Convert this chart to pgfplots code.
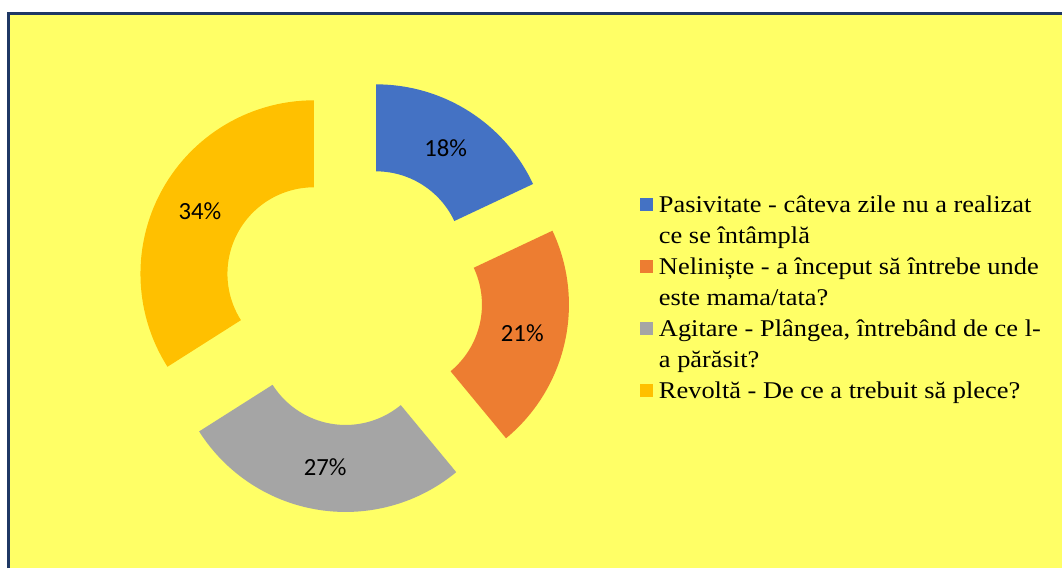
\documentclass[border=0pt]{standalone}
\usepackage{pgfplots}
\pgfplotsset{compat=1.18}
\usepackage{fontspec}
\setmainfont{Liberation Serif}
\newfontfamily\legfont{Liberation Serif}[FakeStretch=1.1]
\newfontfamily\labfont{Carlito}
\definecolor{bg}{HTML}{FFFF66}
\definecolor{navy}{HTML}{1F3864}
\definecolor{cA}{HTML}{4472C4}
\definecolor{cB}{HTML}{ED7D31}
\definecolor{cC}{HTML}{A5A5A5}
\definecolor{cD}{HTML}{FFC000}

% data (percent)
\def\vA{18}\def\vB{21}\def\vC{27}\def\vD{34}

% geometry in pixel units
\def\cx{352.5}\def\cy{273}\def\Ro{173.5}\def\Ri{86.5}\def\off{44}\def\rl{130}

\pgfmathsetmacro\tot{\vA+\vB+\vC+\vD}
\pgfmathsetmacro\aA{90}
\pgfmathsetmacro\bA{\aA-360*\vA/\tot}
\pgfmathsetmacro\aB{\bA}
\pgfmathsetmacro\bB{\aB-360*\vB/\tot}
\pgfmathsetmacro\aC{\bB}
\pgfmathsetmacro\bC{\aC-360*\vC/\tot}
\pgfmathsetmacro\aD{\bC}
\pgfmathsetmacro\bD{\aD-360*\vD/\tot}
\newcommand\mkseg[1]{%
  \pgfmathsetmacro\m{(\csname a#1\endcsname+\csname b#1\endcsname)/2}%
  \expandafter\pgfmathsetmacro\csname ox#1\endcsname{\cx+\off*cos(\m)}%
  \expandafter\pgfmathsetmacro\csname oy#1\endcsname{\cy+\off*sin(\m)}%
  \expandafter\pgfmathsetmacro\csname lx#1\endcsname{\cx+(\off+\rl)*cos(\m)}%
  \expandafter\pgfmathsetmacro\csname ly#1\endcsname{\cy+(\off+\rl)*sin(\m)}%
}
\mkseg{A}\mkseg{B}\mkseg{C}\mkseg{D}

\tikzset{
  declare function={
    rr(\t)=\Ro+(\Ri-\Ro)*min(max(\t-1,0),1);
    aa(\t,\p,\q)=\p+(\q-\p)*min(\t,1)+(\p-\q)*max(\t-2,0);
  },
}
\pgfplotsset{seg/.style={draw=none, domain=0:3, samples=181, fill=#1}}

\begin{document}
\begin{tikzpicture}
\begin{axis}[
  width=796.5pt, height=426pt, scale only axis,
  xmin=0, xmax=1062, ymin=0, ymax=568,
  hide axis,
  legend style={at={(0.6026,0.665)}, anchor=north west, draw=none, fill=none,
    inner sep=0pt, outer sep=0pt, row sep=0pt, column sep=0pt,
    font=\legfont\fontsize{18}{23.25}\selectfont,
    cells={anchor=base west},
    nodes={inner sep=0pt, outer sep=0pt, text height=16.3pt, text depth=6.95pt}},
  legend image code/.code={\fill[#1] (0pt,0.75pt) rectangle (9.75pt,10.5pt); \path (14.25pt,0pt);},
]
\fill[white] (0,0) rectangle (1062,568);
\fill[bg] (8.5,0) rectangle (1062,554);
\draw[navy, line width=2.25pt] (8.5,0) -- (8.5,554) -- (1062,554);

\addplot[seg=cA] ({\oxA+rr(x)*cos(aa(x,\aA,\bA))},{\oyA+rr(x)*sin(aa(x,\aA,\bA))});
\addlegendentry{Pasivitate - câteva zile nu a realizat}
\addlegendimage{empty legend}
\addlegendentry{ce se întâmplă}
\addplot[seg=cB] ({\oxB+rr(x)*cos(aa(x,\aB,\bB))},{\oyB+rr(x)*sin(aa(x,\aB,\bB))});
\addlegendentry{Neliniște - a început să întrebe unde}
\addlegendimage{empty legend}
\addlegendentry{este mama/tata?}
\addplot[seg=cC] ({\oxC+rr(x)*cos(aa(x,\aC,\bC))},{\oyC+rr(x)*sin(aa(x,\aC,\bC))});
\addlegendentry{Agitare - Plângea, întrebând de ce l-}
\addlegendimage{empty legend}
\addlegendentry{a părăsit?}
\addplot[seg=cD] ({\oxD+rr(x)*cos(aa(x,\aD,\bD))},{\oyD+rr(x)*sin(aa(x,\aD,\bD))});
\addlegendentry{Revoltă - De ce a trebuit să plece?}

\node[font=\labfont\fontsize{18.5}{20}\selectfont] at (\lxA,\lyA) {\vA\%};
\node[font=\labfont\fontsize{18.5}{20}\selectfont] at (\lxB,\lyB) {\vB\%};
\node[font=\labfont\fontsize{18.5}{20}\selectfont] at (\lxC,\lyC) {\vC\%};
\node[font=\labfont\fontsize{18.5}{20}\selectfont] at (\lxD,\lyD) {\vD\%};
\end{axis}
\end{tikzpicture}
\end{document}
